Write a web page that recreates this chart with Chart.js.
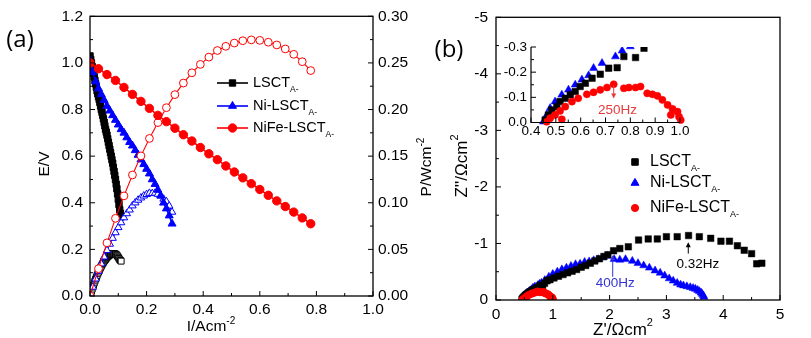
<!DOCTYPE html>
<html>
<head>
<meta charset="utf-8">
<script src="https://cdn.jsdelivr.net/npm/chart.js@4.4.1/dist/chart.umd.min.js"></script>
<style>
  body { margin: 0; background: #fff; }
  #wrap { position: relative; width: 811px; height: 338px; overflow: hidden; background: #fff; }
  canvas { position: absolute; }
</style>
</head>
<body>
<div id="wrap">
  <canvas id="pola" width="450" height="338" style="left:0;top:0"></canvas>
  <canvas id="eis" width="391" height="338" style="left:420px;top:0"></canvas>
  <canvas id="inset" width="210" height="110" style="left:490px;top:30px"></canvas>
</div>
<script>
// series names (subscript "A-" drawn after each)
var seriesNames = ['LSCT', 'Ni-LSCT', 'NiFe-LSCT'];

/* (a) polarisation: current density I, voltage E, power P */
var lsctI = [0, 0.0025, 0.005, 0.0075, 0.01, 0.0125, 0.015, 0.0175, 0.02, 0.0225, 0.025, 0.0275, 0.03, 0.0325, 0.035, 0.0375, 0.04, 0.0425, 0.045, 0.0475, 0.05, 0.0525, 0.055, 0.0575, 0.06, 0.0625, 0.065, 0.0675, 0.07, 0.0725, 0.075, 0.0775, 0.08, 0.0825, 0.085, 0.0875, 0.09, 0.0925, 0.095, 0.0975, 0.1, 0.1025, 0.105, 0.1075, 0.11];
var lsctE = [1.03, 1.015, 1.0, 0.985, 0.97, 0.955, 0.94, 0.925, 0.91, 0.895, 0.88, 0.868, 0.855, 0.843, 0.83, 0.815, 0.8, 0.788, 0.775, 0.76, 0.745, 0.73, 0.715, 0.703, 0.69, 0.675, 0.66, 0.645, 0.63, 0.615, 0.6, 0.585, 0.57, 0.552, 0.535, 0.518, 0.5, 0.48, 0.46, 0.438, 0.415, 0.392, 0.37, 0.355, 0.34];
var lsctP = [0, 0.0025, 0.005, 0.0074, 0.0097, 0.0119, 0.0141, 0.0162, 0.0182, 0.0201, 0.022, 0.0239, 0.0257, 0.0274, 0.029, 0.0306, 0.032, 0.0335, 0.0349, 0.0361, 0.0373, 0.0383, 0.0393, 0.0404, 0.0414, 0.0422, 0.0429, 0.0435, 0.0441, 0.0446, 0.045, 0.0453, 0.0456, 0.0455, 0.0455, 0.0453, 0.045, 0.0444, 0.0437, 0.0427, 0.0415, 0.0402, 0.0389, 0.0382, 0.0374];

var niI = [0, 0.01, 0.02, 0.03, 0.04, 0.05, 0.06, 0.07, 0.08, 0.09, 0.1, 0.11, 0.12, 0.13, 0.14, 0.15, 0.16, 0.17, 0.18, 0.19, 0.2, 0.21, 0.22, 0.23, 0.24, 0.25, 0.26, 0.27, 0.28, 0.29];
var niE = [1.01, 0.96, 0.92, 0.89, 0.865, 0.84, 0.815, 0.795, 0.775, 0.755, 0.735, 0.715, 0.7, 0.68, 0.66, 0.645, 0.625, 0.605, 0.585, 0.565, 0.545, 0.525, 0.5, 0.48, 0.455, 0.43, 0.4, 0.375, 0.345, 0.31];
var niP = [0, 0.0096, 0.0184, 0.0267, 0.0346, 0.042, 0.0489, 0.0557, 0.062, 0.068, 0.0735, 0.0787, 0.084, 0.0884, 0.0924, 0.0968, 0.1, 0.1029, 0.1053, 0.1074, 0.109, 0.1103, 0.11, 0.1104, 0.1092, 0.1075, 0.104, 0.1013, 0.0966, 0.09];

var nifeI = [0, 0.03, 0.06, 0.09, 0.12, 0.15, 0.18, 0.21, 0.24, 0.27, 0.3, 0.33, 0.36, 0.39, 0.42, 0.45, 0.48, 0.51, 0.54, 0.57, 0.6, 0.63, 0.66, 0.69, 0.72, 0.75, 0.78];
var nifeE = [1.0, 0.975, 0.95, 0.925, 0.895, 0.865, 0.835, 0.805, 0.775, 0.748, 0.72, 0.692, 0.665, 0.637, 0.61, 0.585, 0.558, 0.532, 0.507, 0.482, 0.457, 0.432, 0.408, 0.384, 0.36, 0.335, 0.31];
var nifeP = [0, 0.0293, 0.057, 0.0833, 0.1074, 0.1298, 0.1503, 0.169, 0.186, 0.202, 0.216, 0.2284, 0.2394, 0.2484, 0.2562, 0.2633, 0.2678, 0.2713, 0.2738, 0.2747, 0.2742, 0.2722, 0.2693, 0.265, 0.2592, 0.2513, 0.2418];

/* (b) impedance: Z' and Z'' (ohm cm2) */
var lsctZre = [0.457, 0.47, 0.484, 0.504, 0.517, 0.538, 0.558, 0.578, 0.598, 0.619, 0.646, 0.679, 0.713, 0.747, 0.774, 0.821, 0.855, 0.9, 0.95, 1.02, 1.1, 1.18, 1.26, 1.34, 1.42, 1.5, 1.58, 1.66, 1.74, 1.82, 1.9, 1.97, 2.07, 2.18, 2.33, 2.51, 2.68, 2.84, 3.0, 3.19, 3.39, 3.58, 3.78, 3.96, 4.11, 4.25, 4.37, 4.5, 4.59, 4.68];
var lsctZim = [-0.01, -0.03, -0.05, -0.063, -0.083, -0.096, -0.11, -0.123, -0.143, -0.156, -0.176, -0.192, -0.216, -0.218, -0.262, -0.258, -0.295, -0.34, -0.36, -0.39, -0.42, -0.45, -0.48, -0.51, -0.54, -0.58, -0.61, -0.65, -0.69, -0.73, -0.77, -0.8, -0.87, -0.91, -0.94, -1.06, -1.08, -1.08, -1.12, -1.12, -1.14, -1.12, -1.09, -1.04, -1.04, -0.96, -0.88, -0.82, -0.64, -0.65];

var niZre = [0.45, 0.464, 0.477, 0.497, 0.524, 0.551, 0.578, 0.605, 0.632, 0.652, 0.686, 0.74, 0.767, 0.8, 0.86, 0.93, 1.0, 1.08, 1.16, 1.24, 1.32, 1.4, 1.48, 1.56, 1.64, 1.72, 1.8, 1.88, 1.96, 2.08, 2.18, 2.28, 2.4, 2.5, 2.6, 2.7, 2.8, 2.89, 2.97, 3.05, 3.12, 3.19, 3.25, 3.3, 3.36, 3.42, 3.47, 3.51, 3.55, 3.58, 3.61, 3.63, 3.65, 3.66];
var niZim = [-0.003, -0.03, -0.057, -0.083, -0.11, -0.13, -0.15, -0.17, -0.187, -0.216, -0.236, -0.262, -0.285, -0.302, -0.35, -0.41, -0.46, -0.5, -0.54, -0.57, -0.6, -0.63, -0.64, -0.67, -0.68, -0.7, -0.72, -0.75, -0.78, -0.72, -0.71, -0.72, -0.69, -0.65, -0.61, -0.57, -0.52, -0.48, -0.43, -0.38, -0.34, -0.3, -0.27, -0.255, -0.24, -0.225, -0.21, -0.195, -0.175, -0.155, -0.13, -0.105, -0.08, -0.055];

var nifeZre = [0.463, 0.477, 0.497, 0.517, 0.524, 0.538, 0.565, 0.59, 0.625, 0.652, 0.679, 0.706, 0.733, 0.774, 0.794, 0.821, 0.841, 0.868, 0.889, 0.909, 0.929, 0.95, 0.963, 0.97, 0.99, 0.996, 1.003];
var nifeZim = [-0.003, -0.017, -0.03, -0.046, -0.013, -0.063, -0.083, -0.096, -0.112, -0.12, -0.13, -0.139, -0.152, -0.136, -0.139, -0.139, -0.143, -0.116, -0.112, -0.106, -0.09, -0.07, -0.03, -0.054, -0.043, -0.023, -0.01];

// tick labels
var aXTicks = [0, 0.2, 0.4, 0.6, 0.8, 1.0];
var aETicks = [0, 0.2, 0.4, 0.6, 0.8, 1.0, 1.2];
var aPTicks = [0, 0.05, 0.1, 0.15, 0.2, 0.25, 0.3];
var bXTicks = [0, 1, 2, 3, 4, 5];
var bYTicks = [0, -1, -2, -3, -4, -5];
var insXTicks = [0.4, 0.5, 0.6, 0.7, 0.8, 0.9, 1.0];
var insYTicks = [0, -0.1, -0.2, -0.3];

// frequency marks on (b): arrow at x from tail to head, text at tx,ty
var bNotes = [
    { text: '0.32Hz', color: '#000', x: 3.385, tail: -0.82, head: -1.02, tx: 3.556, ty: -0.64 },
    { text: '400Hz', color: '#3434d6', x: 2.055, tail: -0.41, head: -0.79, tx: 2.10, ty: -0.30 }
];
var insNotes = [
    { text: '250Hz', color: '#e43b3b', x: 0.733, tail: -0.149, head: -0.095, tx: 0.748, ty: -0.047 }
];

var FONT = '"Liberation Sans", Arial, sans-serif';
Chart.defaults.font.family = FONT;
Chart.defaults.color = '#000';

function pts(xs, ys) {
    return xs.map(function (x, i) { return { x: x, y: ys[i] }; });
}

function fixTicks(list) {
    return function (scale) {
        scale.ticks = list.map(function (v) { return { value: v }; });
    };
}

function rich(ctx, parts, x, y, rot, align) {
    ctx.save();
    ctx.translate(x, y);
    ctx.rotate(rot || 0);
    ctx.textBaseline = 'middle';
    ctx.textAlign = 'left';
    var w = 0;
    parts.forEach(function (p) {
        ctx.font = p[1] + 'px ' + (p[3] || FONT);
        w += ctx.measureText(p[0]).width;
    });
    var cx = align === 'left' ? 0 : -w / 2;
    parts.forEach(function (p) {
        ctx.font = p[1] + 'px ' + (p[3] || FONT);
        ctx.fillText(p[0], cx, p[2]);
        cx += ctx.measureText(p[0]).width;
    });
    ctx.restore();
}

function marker(ctx, style, x, y, r, fill, stroke) {
    ctx.beginPath();
    if (style === 'rect') {
        var s = r * Math.SQRT1_2;
        ctx.rect(x - s, y - s, 2 * s, 2 * s);
    } else if (style === 'triangle') {
        ctx.moveTo(x, y - r);
        ctx.lineTo(x + r * 0.866, y + r / 2);
        ctx.lineTo(x - r * 0.866, y + r / 2);
        ctx.closePath();
    } else {
        ctx.arc(x, y, r, 0, Math.PI * 2);
    }
    ctx.fillStyle = fill;
    ctx.fill();
    ctx.strokeStyle = stroke;
    ctx.lineWidth = 1;
    ctx.stroke();
}

function tickMarks(ctx, scale, step, at, dir) {
    var n = Math.round((scale.max - scale.min) / step);
    for (var i = 0; i <= n; i++) {
        var p = scale.getPixelForValue(scale.min + i * step);
        var len = i % 2 === 0 ? 5 : 3;
        ctx.beginPath();
        if (scale.isHorizontal()) {
            ctx.moveTo(p, at);
            ctx.lineTo(p, at + dir * len);
        } else {
            ctx.moveTo(at, p);
            ctx.lineTo(at + dir * len, p);
        }
        ctx.stroke();
    }
}

function arrow(ctx, x, y1, y2, color) {
    var d = y2 > y1 ? 1 : -1;
    ctx.strokeStyle = color;
    ctx.fillStyle = color;
    ctx.lineWidth = 1;
    ctx.beginPath();
    ctx.moveTo(x, y1);
    ctx.lineTo(x, y2 - d * 3);
    ctx.stroke();
    ctx.beginPath();
    ctx.moveTo(x, y2);
    ctx.lineTo(x - 2.5, y2 - d * 5);
    ctx.lineTo(x + 2.5, y2 - d * 5);
    ctx.closePath();
    ctx.fill();
}

function drawNotes(ctx, chart, notes) {
    var xs = chart.scales.x, ys = chart.scales.y;
    notes.forEach(function (n) {
        var px = xs.getPixelForValue(n.x);
        arrow(ctx, px, ys.getPixelForValue(n.tail), ys.getPixelForValue(n.head), n.color);
        ctx.fillStyle = n.color;
        rich(ctx, [[n.text, 13.5, 0]], xs.getPixelForValue(n.tx), ys.getPixelForValue(n.ty), 0);
    });
}

var tickFont = { size: 15.5 };
var noGrid = { display: false, drawTicks: false };

/* ---------- (a) ---------- */
var aStyles = [
    { color: '#000', style: 'rect', r: 4.5 },
    { color: '#0000ff', style: 'triangle', r: 4.6 },
    { color: '#ff0000', style: 'circle', r: 4.2 }
];

var aDeco = {
    id: 'aDeco',
    afterDraw: function (chart) {
        var ctx = chart.ctx, a = chart.chartArea, s = chart.scales;
        ctx.save();
        ctx.strokeStyle = '#000';
        ctx.lineWidth = 1.3;
        ctx.strokeRect(a.left, a.top, a.right - a.left, a.bottom - a.top);
        ctx.lineWidth = 1;
        tickMarks(ctx, s.x, 0.1, a.bottom, -1);
        tickMarks(ctx, s.y, 0.1, a.left, 1);
        tickMarks(ctx, s.y2, 0.025, a.right, -1);

        ctx.fillStyle = '#000';
        rich(ctx, [['E/V', 15.5, 0]], 45, 164, -Math.PI / 2);
        rich(ctx, [['I/Acm', 15.5, 0], ['-2', 10, -6]], 211, 327, 0);
        rich(ctx, [['P/Wcm', 15.5, 0], ['-2', 10, -6]], 427, 167, -Math.PI / 2);
        rich(ctx, [['(a)', 24, 0, '"Open Sans", sans-serif']], 20, 40, 0);

        // legend
        var rows = [83, 106, 128];
        seriesNames.forEach(function (name, i) {
            var st = aStyles[i];
            ctx.strokeStyle = st.color;
            ctx.lineWidth = 1.6;
            ctx.beginPath();
            ctx.moveTo(217, rows[i]);
            ctx.lineTo(248, rows[i]);
            ctx.stroke();
            marker(ctx, st.style, 232.5, rows[i], st.r, st.color, st.color);
            ctx.fillStyle = '#000';
            rich(ctx, [[name, 14.5, 0], ['A-', 8.5, 7]], 253, rows[i], 0, 'left');
        });
        ctx.restore();
    }
};

function polaSet(xs, ys, axis, st, open) {
    return {
        data: pts(xs, ys),
        yAxisID: axis,
        showLine: true,
        borderColor: st.color,
        borderWidth: open ? 1.1 : 1.6,
        backgroundColor: open ? '#fff' : st.color,
        pointBorderColor: st.color,
        pointStyle: st.style,
        pointRadius: open ? st.r - 0.3 : st.r,
        pointBorderWidth: 1
    };
}

new Chart(document.getElementById('pola'), {
    type: 'scatter',
    data: {
        datasets: [
            polaSet(nifeI, nifeE, 'y', aStyles[2], false),
            polaSet(nifeI, nifeP, 'y2', aStyles[2], true),
            polaSet(niI, niE, 'y', aStyles[1], false),
            polaSet(niI, niP, 'y2', aStyles[1], true),
            polaSet(lsctI, lsctE, 'y', aStyles[0], false),
            polaSet(lsctI, lsctP, 'y2', aStyles[0], true)
        ]
    },
    options: {
        responsive: false,
        animation: false,
        events: [],
        layout: { padding: { top: 15, left: 0, right: 0, bottom: 0 } },
        plugins: { legend: { display: false }, tooltip: { enabled: false } },
        scales: {
            x: {
                type: 'linear', min: 0, max: 1.0,
                afterBuildTicks: fixTicks(aXTicks),
                afterFit: function (s) { s.height = 42; },
                grid: noGrid, border: { display: false },
                ticks: { font: tickFont, padding: 4, color: '#000', callback: function (v) { return v.toFixed(1); } }
            },
            y: {
                type: 'linear', position: 'left', min: 0, max: 1.2,
                afterBuildTicks: fixTicks(aETicks),
                afterFit: function (s) { s.width = 90; },
                grid: noGrid, border: { display: false },
                ticks: { font: tickFont, padding: 7, color: '#000', callback: function (v) { return v.toFixed(1); } }
            },
            y2: {
                type: 'linear', position: 'right', min: 0, max: 0.3,
                afterBuildTicks: fixTicks(aPTicks),
                afterFit: function (s) { s.width = 77; },
                grid: noGrid, border: { display: false },
                ticks: { font: tickFont, padding: 5, color: '#000', callback: function (v) { return v.toFixed(2); } }
            }
        }
    },
    plugins: [aDeco]
});

/* ---------- (b) ---------- */
var bStyles = [
    { color: '#000', style: 'rect', r: 4.6 },
    { color: '#0000ff', style: 'triangle', r: 4.6 },
    { color: '#ff0000', style: 'circle', r: 3.6 }
];

function eisSets(clip) {
    var list = [
        [nifeZre, nifeZim, bStyles[2]],
        [lsctZre, lsctZim, bStyles[0]],
        [niZre, niZim, bStyles[1]]
    ];
    return list.map(function (d) {
        var set = {
            data: pts(d[0], d[1]),
            showLine: false,
            backgroundColor: d[2].color,
            borderColor: d[2].color,
            pointStyle: d[2].style,
            pointRadius: d[2].r,
            pointBorderWidth: 0.5
        };
        if (clip) set.clip = clip;
        return set;
    });
}

var bDeco = {
    id: 'bDeco',
    afterDraw: function (chart) {
        var ctx = chart.ctx, a = chart.chartArea, s = chart.scales;
        ctx.save();
        ctx.strokeStyle = '#000';
        ctx.lineWidth = 1.3;
        ctx.strokeRect(a.left, a.top, a.right - a.left, a.bottom - a.top);
        ctx.lineWidth = 1;
        tickMarks(ctx, s.x, 0.5, a.bottom, -1);
        tickMarks(ctx, s.y, 0.5, a.left, 1);

        ctx.fillStyle = '#000';
        rich(ctx, [["Z'/\u03A9cm", 17, 0], ['2', 11, -7]], 203, 330, 0);
        rich(ctx, [["Z''/\u03A9cm", 17, 0], ['2', 11, -7]], 42, 166, -Math.PI / 2);
        rich(ctx, [['(b)', 24, 0, '"Open Sans", sans-serif']], 29, 50, 0);

        var rows = [162, 183, 208];
        seriesNames.forEach(function (name, i) {
            var st = bStyles[i];
            marker(ctx, st.style, 215, rows[i], st.r, st.color, st.color);
            ctx.fillStyle = '#000';
            rich(ctx, [[name, 16, 0], ['A-', 9, 7]], 230, rows[i], 0, 'left');
        });

        drawNotes(ctx, chart, bNotes);
        ctx.restore();
    }
};

new Chart(document.getElementById('eis'), {
    type: 'scatter',
    data: { datasets: eisSets(null) },
    options: {
        responsive: false,
        animation: false,
        events: [],
        layout: { padding: { top: 15, left: 0, right: 31, bottom: 0 } },
        plugins: { legend: { display: false }, tooltip: { enabled: false } },
        scales: {
            x: {
                type: 'linear', min: 0, max: 5,
                afterBuildTicks: fixTicks(bXTicks),
                afterFit: function (s) { s.height = 38; },
                grid: noGrid, border: { display: false },
                ticks: { font: tickFont, padding: 5, color: '#000', callback: function (v) { return String(v); } }
            },
            y: {
                type: 'linear', min: -5, max: 0, reverse: true,
                afterBuildTicks: fixTicks(bYTicks),
                afterFit: function (s) { s.width = 76; },
                grid: noGrid, border: { display: false },
                ticks: { font: tickFont, padding: 8, color: '#000', callback: function (v) { return String(v); } }
            }
        }
    },
    plugins: [bDeco]
});

/* ---------- inset ---------- */
var insDeco = {
    id: 'insDeco',
    afterDraw: function (chart) {
        var ctx = chart.ctx, a = chart.chartArea, s = chart.scales;
        ctx.save();
        ctx.strokeStyle = '#000';
        ctx.lineWidth = 1.2;
        ctx.beginPath();
        ctx.moveTo(a.left, a.top);
        ctx.lineTo(a.left, a.bottom);
        ctx.lineTo(a.right, a.bottom);
        ctx.stroke();
        ctx.lineWidth = 1;
        tickMarks(ctx, s.x, 0.05, a.bottom, -1);
        tickMarks(ctx, s.y, 0.05, a.left, 1);
        drawNotes(ctx, chart, insNotes);
        ctx.restore();
    }
};

var insFont = { size: 13.5 };

new Chart(document.getElementById('inset'), {
    type: 'scatter',
    data: { datasets: eisSets({ left: 6, top: 0, right: 6, bottom: 6 }) },
    options: {
        responsive: false,
        animation: false,
        events: [],
        layout: { padding: { top: 17, left: 0, right: 20, bottom: 0 } },
        plugins: { legend: { display: false }, tooltip: { enabled: false } },
        scales: {
            x: {
                type: 'linear', min: 0.4, max: 1.0,
                afterBuildTicks: fixTicks(insXTicks),
                afterFit: function (s) { s.height = 17.5; },
                grid: noGrid, border: { display: false },
                ticks: { font: insFont, padding: 1, color: '#000', callback: function (v) { return v.toFixed(1); } }
            },
            y: {
                type: 'linear', min: -0.3, max: 0, reverse: true,
                afterBuildTicks: fixTicks(insYTicks),
                afterFit: function (s) { s.width = 41; },
                grid: noGrid, border: { display: false },
                ticks: { font: insFont, padding: 4, color: '#000', callback: function (v) { return v.toFixed(1); } }
            }
        }
    },
    plugins: [insDeco]
});
</script>
</body>
</html>
